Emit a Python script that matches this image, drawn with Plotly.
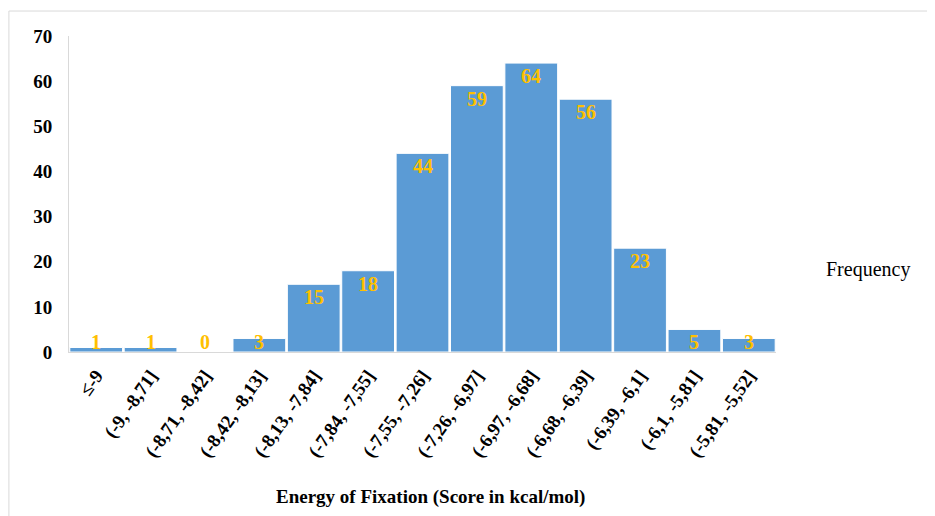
import plotly.graph_objects as go

categories = ["≤-9", "(-9, -8,71]", "(-8,71, -8,42]", "(-8,42, -8,13]", "(-8,13, -7,84]",
              "(-7,84, -7,55]", "(-7,55, -7,26]", "(-7,26, -6,97]", "(-6,97, -6,68]",
              "(-6,68, -6,39]", "(-6,39, -6,1]", "(-6,1, -5,81]", "(-5,81, -5,52]"]
frequency = [1, 1, 0, 3, 15, 18, 44, 59, 64, 56, 23, 5, 3]
y_ticks = [0, 10, 20, 30, 40, 50, 60, 70]

FONT = "Liberation Serif, Times New Roman, serif"
BAR = "#5B9BD5"
LABEL = "#FFC000"

fig = go.Figure()
fig.add_trace(go.Bar(
    x=categories, y=frequency, name="Frequency",
    marker=dict(color=BAR, line=dict(color="white", width=1)),
    showlegend=False, hoverinfo="x+y",
))

for c, v in zip(categories, frequency):
    fig.add_annotation(x=c, y=max(v, 5), text=str(v), showarrow=False,
                       yanchor="top", yshift=0,
                       font=dict(family=FONT, size=20, color=LABEL, weight="bold"))

fig.add_annotation(xref="paper", yref="paper", x=1.068, y=0.26, text="Frequency",
                   showarrow=False, xanchor="left", yanchor="middle",
                   font=dict(family=FONT, size=20, color="black"))

fig.add_annotation(xref="paper", yref="paper", x=0.512, y=-0.459,
                   text="Energy of Fixation (Score in kcal/mol)",
                   showarrow=False, xanchor="center", yanchor="middle",
                   font=dict(family=FONT, size=19, color="black", weight="bold"))

fig.add_shape(type="rect", xref="paper", yref="paper", x0=-0.085, x1=1.4, y0=-0.7, y1=1.079,
              line=dict(color="#D9D9D9", width=1), fillcolor="rgba(0,0,0,0)", layer="below")

fig.update_layout(
    width=935, height=516,
    margin=dict(l=61, r=167, t=28, b=172, autoexpand=False),
    paper_bgcolor="white", plot_bgcolor="white",
    bargap=0.03,
    font=dict(family=FONT, color="black"),
    xaxis=dict(
        tickangle=-55, showgrid=False, showline=True, linecolor="#D9D9D9", linewidth=1,
        automargin=False, ticks="outside", ticklen=4, tickcolor="white",
        tickfont=dict(family=FONT, size=19, color="black", weight="bold"),
    ),
    yaxis=dict(
        range=[0, 70], tickvals=y_ticks, showgrid=False, zeroline=False, automargin=False,
        showline=True, linecolor="#D9D9D9", linewidth=1, ticklabelstandoff=12,
        tickfont=dict(family=FONT, size=19, color="black", weight="bold"),
    ),
)

fig.write_html("out.html")
